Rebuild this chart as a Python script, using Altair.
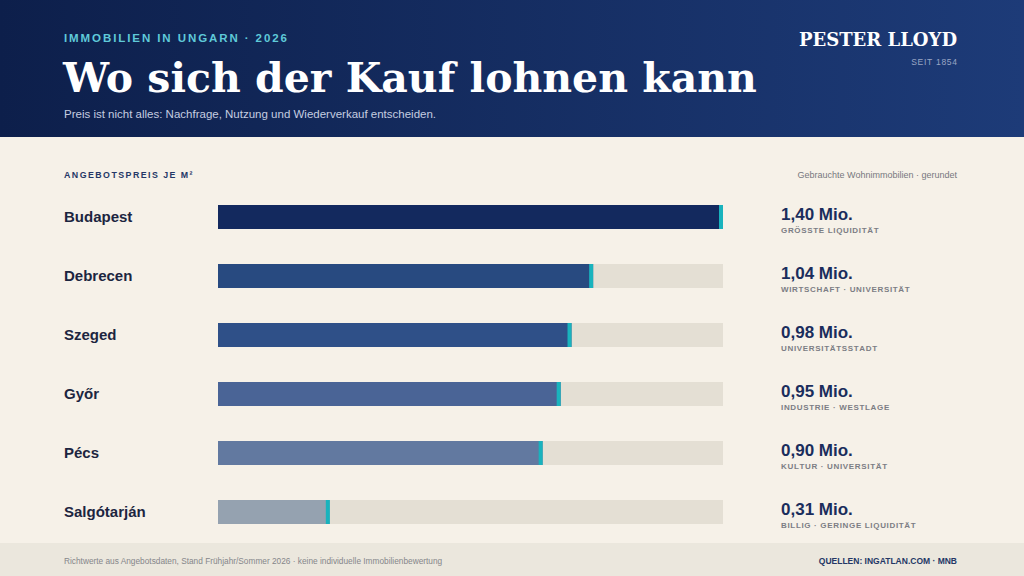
import altair as alt
import pandas as pd

# Angebotspreise je m² (Mio. HUF, gerundet)
cities = ["Budapest", "Debrecen", "Szeged", "Győr", "Pécs", "Salgótarján"]
prices = [1.40, 1.04, 0.98, 0.95, 0.90, 0.31]
notes = [
    "GRÖSSTE LIQUIDITÄT",
    "WIRTSCHAFT · UNIVERSITÄT",
    "UNIVERSITÄTSSTADT",
    "INDUSTRIE · WESTLAGE",
    "KULTUR · UNIVERSITÄT",
    "BILLIG · GERINGE LIQUIDITÄT",
]
bar_colors = ["#13295e", "#284a80", "#2f5088", "#4a6496", "#6279a0", "#95a2b0"]
max_price = 1.40

HAIR = "\u200a"   # hair space
SIXTH = "\u2006"  # six-per-em space


def spaced(s, gap=HAIR):
    """Widen tracking by putting a narrow space between the letters."""
    return gap.join(s)


df = pd.DataFrame({
    "city": cities,
    "price": prices,
    "note": [spaced(n) for n in notes],
    "max": [max_price] * len(cities),
    "label": [f"{p:.2f}".replace(".", ",") + " Mio." for p in prices],
})

W, H = 1024, 576
NAVY = "#1a2d5c"
SANS = "Liberation Sans"
SERIF = "DejaVu Serif"

x_scale = alt.Scale(domain=[0, max_price], range=[218, 723], nice=False, zero=True)
y_scale = alt.Scale(domain=cities, range=[187.5, 541.5], paddingInner=0, paddingOuter=0)
x_enc = alt.X("price:Q", scale=x_scale, axis=None)
y_enc = alt.Y("city:N", scale=y_scale, axis=None, sort=cities)

base = alt.Chart(df)

# Header band with gradient
header = alt.Chart(df.head(1)).mark_rect(
    color=alt.LinearGradient(
        gradient="linear", x1=0, x2=1, y1=0, y2=0,
        stops=[alt.GradientStop(color="#0d1f4b", offset=0),
               alt.GradientStop(color="#1d3b78", offset=1)],
    )
).encode(x=alt.value(0), x2=alt.value(W), y=alt.value(0), y2=alt.value(137))

footer = alt.Chart(df.head(1)).mark_rect(color="#ebe7dd").encode(
    x=alt.value(0), x2=alt.value(W), y=alt.value(543), y2=alt.value(H)
)


def label(text, x, y, size, color, font=SANS, weight="normal", align="left"):
    return alt.Chart(df.head(1)).mark_text(
        text=text, font=font, fontSize=size, fontWeight=weight, color=color,
        align=align, baseline="alphabetic",
    ).encode(x=alt.value(x), y=alt.value(y))


texts = [
    label(spaced("IMMOBILIEN IN UNGARN · 2026", SIXTH), 64, 42, 11.5, "#5fcad9", weight="bold"),
    label("Wo sich der Kauf lohnen kann", 63, 92, 41, "#ffffff", font=SERIF, weight="bold"),
    label("Preis ist nicht alles: Nachfrage, Nutzung und Wiederverkauf entscheiden.", 64, 118, 11.5, "#c5cde0"),
    label("PESTER LLOYD", 957, 46, 18, "#ffffff", font=SERIF, weight="bold", align="right"),
    label(spaced("SEIT 1854"), 957, 65, 8.5, "#9aa6c4", align="right"),
    label(spaced("ANGEBOTSPREIS JE M²", SIXTH), 64, 178, 8.8, "#243766", weight="bold"),
    label("Gebrauchte Wohnimmobilien · gerundet", 957, 178, 9, "#77787e", align="right"),
    label("Richtwerte aus Angebotsdaten, Stand Frühjahr/Sommer 2026 · keine individuelle Immobilienbewertung",
          64, 564, 8.3, "#85868a"),
    label("QUELLEN: INGATLAN.COM · MNB", 957, 564, 8.5, "#243766", weight="bold", align="right"),
]

track = base.mark_bar(size=24, color="#e4dfd4", cornerRadius=0).encode(
    x=alt.X("max:Q", scale=x_scale, axis=None), x2=alt.datum(0), y=y_enc
)

bars = base.mark_bar(size=24, cornerRadius=0).encode(
    x=x_enc,
    x2=alt.datum(0),
    y=y_enc,
    color=alt.Color("city:N", scale=alt.Scale(domain=cities, range=bar_colors), legend=None),
)

caps = base.mark_tick(thickness=4, size=24, color="#19b3bd", opacity=1, xOffset=-2).encode(
    x=x_enc, y=y_enc
)

city_text = base.mark_text(
    align="left", baseline="middle", font=SANS, fontSize=15, fontWeight="bold", color="#1c2540"
).encode(x=alt.value(64), y=y_enc, text="city:N")

value_text = base.mark_text(
    align="left", baseline="alphabetic", font=SANS, fontSize=17, fontWeight="bold", color=NAVY, dy=3
).encode(x=alt.value(781), y=y_enc, text="label:N")

note_text = base.mark_text(
    align="left", baseline="alphabetic", font=SANS, fontSize=8, fontWeight="bold",
    color="#7c7d84", dy=16
).encode(x=alt.value(781), y=y_enc, text="note:N")

chart = alt.layer(
    header, footer, *texts, track, bars, caps, city_text, value_text, note_text
).properties(
    width=W, height=H, padding=0, autosize=alt.AutoSizeParams(type="none"),
    background="#f6f1e8",
).configure_view(stroke=None)

chart.save("out.html", embed_options={"renderer": "svg", "actions": False})
